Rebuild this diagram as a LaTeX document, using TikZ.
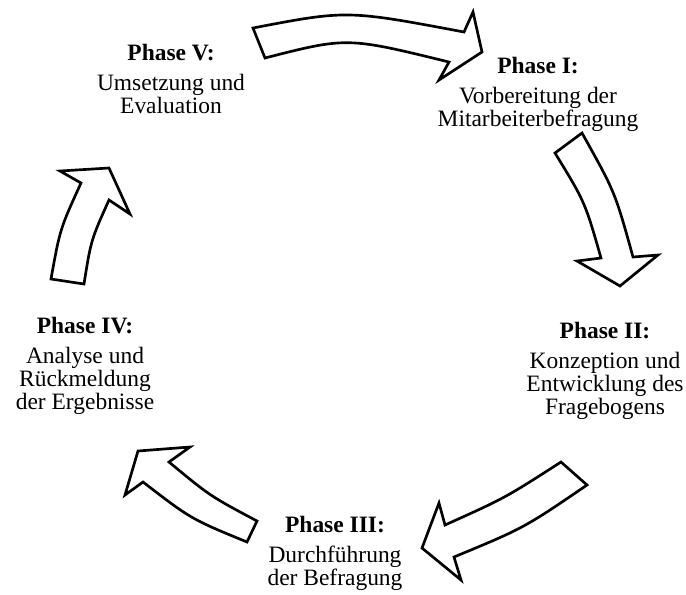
\documentclass[tikz,border=0pt]{standalone}
\usepackage{fontspec}
\setmainfont{Liberation Serif}

\tikzset{every picture/.style={line width=0.75pt}}
\tikzset{
  blockarrow/.style={draw=black, fill=white, line width=2pt, line join=miter},
  phase/.style={anchor=north, inner sep=0pt, align=center, font=\fontsize{17.6}{17.2}\selectfont}
}

\begin{document}
\begin{tikzpicture}[x=0.75pt,y=0.75pt,yscale=-1,xscale=1]
\useasboundingbox (0,0) rectangle (686,594);

%Shape: Curved Arrow [top, V to I]
\draw [blockarrow] (253,28) .. controls (347,10) .. (464,32) -- (473,12) -- (482,52) -- (439,80) -- (449,62) .. controls (347,37) .. (265,58) -- cycle ;
%Shape: Curved Arrow [right, I to II]
\draw [blockarrow] (582,133) -- (555,153) .. controls (585,202) .. (601,258) -- (577,261) -- (620,286) -- (658,255) -- (633,257) .. controls (615,192) .. (582,133) -- cycle ;
%Shape: Curved Arrow [bottom right, II to III]
\draw [blockarrow] (561,462) -- (587,485) .. controls (524,528) .. (454,557) -- (461,580) -- (422,548) -- (439,503) -- (445,525) .. controls (505,498) .. (561,462) -- cycle ;
%Shape: Curved Arrow [bottom left, III to IV]
\draw [blockarrow] (257,521) -- (247,542) .. controls (191,519) .. (143,482) -- (125,495) -- (138,451) -- (190,447) -- (169,462) .. controls (210,496) .. (257,521) -- cycle ;
%Shape: Curved Arrow [left, IV to V]
\draw [blockarrow] (51,279) -- (84,284) .. controls (91,240) .. (109,200) -- (130,214) -- (109,168) -- (60,171) -- (81,183) .. controls (60,229) .. (51,279) -- cycle ;

% Text Node
\node [phase] (p1) at (538,57) {\textbf{Phase I:}\\[5pt]Vorbereitung der\\Mitarbeiterbefragung};
% Text Node
\node [phase] (p2) at (605,322) {\textbf{Phase II:}\\[5pt]Konzeption und\\Entwicklung des\\Fragebogens};
% Text Node
\node [phase] (p3) at (335,516) {\textbf{Phase III:}\\[5pt]Durchführung\\der Befragung};
% Text Node
\node [phase] (p4) at (85,317) {\textbf{Phase IV:}\\[5pt]Analyse und\\Rückmeldung\\der Ergebnisse};
% Text Node
\node [phase] (p5) at (171,44) {\textbf{Phase V:}\\[5pt]Umsetzung und\\Evaluation};
\end{tikzpicture}
\end{document}
